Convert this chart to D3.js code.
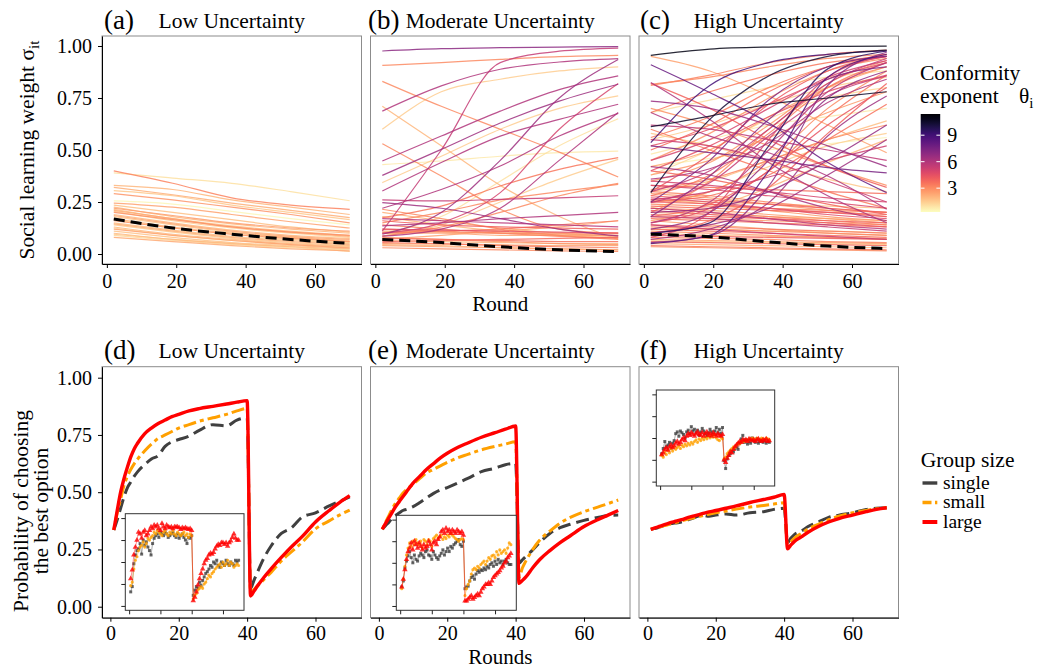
<!DOCTYPE html>
<html>
<head>
<meta charset="utf-8">
<script src="https://cdn.jsdelivr.net/npm/d3@7"></script>
<style>
  body { margin: 0; background: #fff; }
  svg, svg text { font-family: "Liberation Serif", "DejaVu Serif", "Noto Serif", "Times New Roman", Times, serif; fill: #000; }
</style>
</head>
<body>
<div class="chart"></div>
<script>
// ---------- data ----------
const panelTitles = ["Low Uncertainty", "Moderate Uncertainty", "High Uncertainty"];
const topTags = ["(a)", "(b)", "(c)"];
const bottomTags = ["(d)", "(e)", "(f)"];
const xTicks = [0, 20, 40, 60];
const yTicks = [0, 0.25, 0.5, 0.75, 1];
const thetaTicks = [3, 6, 9];
const groups = ["single", "small", "large"];

const sRounds = [2, 19, 36, 53, 70];

// [theta, sigma at sRounds...]
const linesLow = [
  [3.2, .40, .34, .27, .235, .215], [1.0, .39, .365, .34, .30, .256],
  [2.0, .33, .31, .26, .225, .19], [2.2, .32, .285, .245, .21, .175],
  [1.6, .305, .28, .235, .20, .165], [2.8, .29, .26, .225, .19, .15],
  [0.5, .255, .24, .205, .17, .14], [2.5, .245, .225, .19, .155, .125],
  [1.8, .235, .20, .165, .13, .105], [2.0, .225, .18, .145, .12, .10],
  [2.6, .22, .185, .15, .125, .11], [1.7, .215, .17, .135, .11, .09],
  [2.3, .21, .17, .13, .105, .085], [1.5, .205, .16, .125, .10, .08],
  [2.9, .20, .165, .13, .105, .09], [1.9, .19, .15, .115, .09, .075],
  [2.4, .185, .145, .11, .085, .07], [1.6, .18, .14, .105, .08, .065],
  [2.1, .17, .13, .10, .08, .06], [1.4, .165, .125, .095, .07, .055],
  [2.7, .16, .125, .095, .075, .06], [1.8, .15, .115, .085, .065, .05],
  [2.2, .145, .11, .08, .06, .045], [1.5, .14, .105, .075, .055, .04],
  [2.0, .13, .095, .07, .05, .038], [1.3, .125, .09, .065, .045, .035],
  [2.5, .12, .09, .065, .045, .03], [1.7, .11, .08, .055, .04, .028],
  [1.9, .10, .07, .05, .035, .025], [1.2, .09, .065, .045, .03, .02],
  [2.3, .08, .06, .04, .025, .015], [1.6, .095, .07, .05, .035, .012]
];
const meanLow = [.168, .125, .095, .07, .051];

const linesMod = [
  [7.0, .976, .987, .992, .995, .997], [3.0, .907, .92, .936, .949, .955],
  [6.0, .687, .808, .888, .923, .939], [5.5, .11, .50, .92, .975, .99],
  [3.0, .83, .71, .60, .49, .37], [1.5, .60, .78, .84, .88, .90],
  [2.0, .71, .52, .33, .18, .07], [3.0, .53, .375, .215, .12, .10],
  [6.0, .447, .567, .687, .79, .856], [6.5, .378, .503, .63, .735, .816],
  [0.8, .43, .447, .47, .487, .495], [1.5, .343, .47, .60, .70, .76],
  [6.0, .303, .44, .567, .647, .72], [5.5, .26, .255, .263, .27, .28],
  [6.0, .22, .31, .423, .567, .676], [1.0, .10, .18, .35, .52, .65],
  [5.0, .10, .15, .295, .60, .82], [3.5, .175, .23, .327, .407, .463],
  [3.0, .15, .20, .26, .30, .335], [6.0, .135, .15, .17, .185, .20],
  [2.5, .07, .09, .11, .13, .16], [6.5, .247, .22, .17, .12, .087],
  [3.0, .215, .17, .12, .09, .07], [2.0, .18, .14, .11, .09, .08],
  [1.5, .086, .14, .25, .36, .455], [6.0, .086, .12, .22, .45, .68],
  [6.5, .095, .20, .45, .75, .935], [3.0, .086, .13, .20, .28, .34],
  [2.5, .10, .10, .09, .09, .09], [3.0, .12, .11, .10, .10, .10],
  [2.0, .065, .06, .055, .05, .05], [3.5, .055, .05, .04, .035, .03],
  [2.5, .04, .035, .03, .025, .02], [3.0, .03, .025, .02, .015, .012],
  [2.0, .045, .04, .03, .025, .02], [2.8, .08, .07, .06, .05, .045],
  [3.2, .14, .12, .10, .085, .075], [4.0, .16, .14, .13, .125, .12],
  [2.2, .20, .16, .125, .10, .085], [3.8, .06, .065, .07, .075, .08],
  [5.8, .17, .16, .15, .14, .13], [3.4, .10, .11, .12, .14, .16],
  [2.6, .11, .105, .10, .095, .09], [3.6, .075, .07, .065, .06, .06],
  [2.4, .05, .048, .045, .04, .04], [4.5, .12, .115, .11, .105, .10]
];
const meanMod = [.07, .055, .035, .02, .012];

const linesHigh = [
  [11.0, .955, .985, .995, .998, .999], [10.5, .612, .663, .72, .75, .78],
  [10.3, .295, .647, .856, .95, .98], [9.5, .10, .15, .52, .89, .976],
  [9.0, .535, .81, .92, .96, .976], [8.5, .05, .09, .40, .85, .96],
  [8.0, .91, .776, .63, .44, .295], [7.5, .52, .487, .455, .415, .39],
  [7.0, .055, .087, .327, .81, .97], [7.0, .18, .375, .647, .84, .90],
  [6.6, .735, .70, .62, .52, .42], [7.4, .25, .45, .74, .90, .95],
  [6.8, .12, .20, .45, .75, .88], [6.0, .68, .567, .487, .375, .215],
  [6.0, .36, .41, .535, .728, .84], [5.5, .247, .343, .567, .76, .856],
  [6.5, .07, .12, .247, .567, .76], [6.0, .824, .647, .44, .28, .15],
  [5.0, .45, .55, .70, .85, .93], [5.5, .30, .40, .60, .82, .94],
  [6.2, .42, .38, .30, .22, .16], [5.8, .15, .25, .50, .78, .92],
  [6.8, .20, .22, .30, .45, .62], [5.2, .55, .52, .45, .35, .25],
  [6.5, .10, .14, .22, .38, .55], [5.0, .35, .33, .30, .27, .25],
  [5.2, .26, .30, .37, .45, .52], [5.6, .62, .60, .55, .50, .45],
  [4.8, .08, .20, .55, .85, .95], [5.4, .18, .17, .15, .13, .11],
  [5.3, .14, .12, .10, .085, .07], [5.7, .22, .20, .17, .14, .12],
  [4.5, .40, .52, .66, .78, .86], [3.0, .816, .85, .90, .94, .96],
  [2.5, .95, .88, .76, .62, .487], [3.5, .68, .78, .86, .92, .95],
  [4.0, .82, .70, .55, .42, .32], [3.2, .81, .86, .92, .96, .98],
  [3.8, .50, .62, .78, .90, .96], [2.8, .45, .58, .75, .88, .94],
  [4.2, .30, .48, .72, .88, .95], [3.0, .20, .35, .60, .80, .90],
  [3.6, .25, .28, .38, .55, .72], [2.6, .38, .45, .56, .68, .78],
  [4.4, .15, .22, .40, .62, .80], [3.4, .60, .50, .40, .30, .22],
  [2.9, .70, .62, .52, .42, .33], [3.7, .33, .32, .31, .30, .29],
  [4.0, .28, .26, .24, .22, .20], [3.1, .24, .23, .22, .21, .20],
  [3.3, .22, .20, .18, .16, .14], [2.7, .26, .24, .21, .18, .16],
  [3.9, .19, .18, .17, .16, .15], [3.5, .17, .16, .15, .14, .13],
  [4.3, .21, .19, .17, .15, .13], [2.4, .16, .14, .12, .10, .09],
  [3.0, .13, .12, .11, .10, .09], [3.6, .12, .11, .10, .09, .08],
  [2.8, .11, .10, .09, .08, .07], [4.1, .09, .085, .08, .075, .07],
  [3.2, .08, .075, .07, .06, .055], [2.5, .07, .065, .06, .055, .05],
  [3.8, .06, .055, .05, .045, .04], [2.2, .05, .045, .04, .035, .03],
  [3.4, .04, .035, .03, .025, .02], [2.9, .035, .03, .025, .02, .015],
  [4.6, .27, .25, .22, .19, .17], [4.8, .33, .31, .28, .25, .22],
  [3.1, .31, .36, .45, .55, .62], [3.9, .40, .36, .30, .24, .19],
  [2.6, .29, .27, .24, .21, .18], [4.5, .52, .60, .72, .84, .92],
  [3.3, .56, .66, .80, .90, .95], [1.0, .68, .74, .80, .85, .88],
  [1.5, .55, .62, .72, .80, .85], [1.2, .38, .50, .65, .75, .80],
  [0.8, .48, .55, .62, .66, .70], [1.8, .30, .35, .45, .55, .64],
  [1.4, .22, .30, .42, .52, .58], [2.0, .16, .22, .32, .44, .55],
  [1.7, .26, .25, .24, .23, .22], [1.1, .12, .12, .11, .11, .10],
  [2.0, .20, .19, .18, .17, .16], [1.6, .58, .52, .44, .36, .30],
  [0.6, .42, .46, .50, .53, .56], [1.9, .10, .09, .085, .08, .075],
  [1.3, .065, .06, .055, .05, .045],
  [3.0, .25, .30, .45, .70, .88], [3.6, .18, .24, .40, .66, .86],
  [2.7, .35, .44, .62, .82, .93], [4.0, .10, .16, .32, .58, .82],
  [3.3, .28, .38, .58, .80, .92], [2.4, .42, .50, .66, .80, .90],
  [3.8, .23, .22, .21, .20, .19], [3.2, .30, .28, .25, .22, .20],
  [2.8, .18, .17, .16, .15, .14], [4.2, .25, .24, .22, .20, .18],
  [3.5, .14, .13, .12, .11, .10], [2.6, .22, .21, .19, .17, .15]
];
const meanHigh = [.095, .083, .058, .038, .026];

// model predictions: probability of choosing the best option
const mRounds = [1, 2, 3, 4, 5, 6, 7, 8, 10, 12, 14, 16, 18, 20, 23, 26, 30, 34, 37, 40,
                 41, 42, 43, 45, 47, 50, 53, 56, 60, 64, 67, 70];
const dSingle = [.335, .38, .43, .48, .52, .545, .57, .59, .62, .645, .66, .70, .72, .73, .745, .77, .795, .79, .815, .825,
                 .08, .115, .15, .215, .265, .32, .345, .39, .41, .44, .46, .48];
const dSmall  = [.335, .41, .47, .53, .57, .60, .625, .645, .68, .71, .735, .75, .765, .78, .795, .81, .825, .84, .855, .866,
                 .06, .075, .09, .12, .15, .20, .24, .28, .34, .375, .40, .422];
const dLarge  = [.335, .42, .50, .56, .61, .655, .69, .715, .755, .78, .80, .815, .83, .84, .855, .865, .875, .885, .893, .90,
                 .047, .068, .09, .13, .165, .215, .262, .305, .37, .42, .455, .485];
const eSingle = [.338, .355, .37, .39, .40, .41, .42, .425, .437, .455, .475, .495, .51, .52, .54, .56, .59, .605, .62, .626,
                 .19, .205, .22, .248, .28, .32, .345, .36, .377, .39, .398, .40];
const eSmall  = [.338, .37, .40, .43, .455, .475, .495, .51, .535, .56, .585, .60, .615, .63, .65, .665, .685, .70, .71, .72,
                 .13, .17, .20, .25, .29, .33, .365, .39, .415, .435, .45, .466];
const eLarge  = [.338, .365, .39, .415, .44, .46, .48, .50, .54, .57, .60, .625, .65, .67, .695, .715, .74, .76, .775, .789,
                 .102, .115, .13, .17, .205, .245, .28, .31, .35, .38, .40, .42];
const fSingle = [.338, .341, .345, .35, .355, .36, .363, .365, .37, .38, .39, .40, .395, .40, .405, .40, .41, .415, .425, .43,
                 .28, .30, .315, .33, .35, .37, .39, .40, .41, .425, .43, .432];
const fSmall  = [.338, .342, .346, .35, .354, .358, .362, .366, .375, .383, .39, .397, .404, .41, .418, .426, .435, .442, .448, .454,
                 .27, .285, .30, .32, .34, .36, .38, .395, .41, .42, .428, .432];
const fLarge  = [.338, .343, .348, .353, .358, .363, .368, .372, .38, .39, .398, .406, .414, .42, .43, .44, .455, .468, .478, .49,
                 .253, .27, .285, .305, .325, .35, .37, .385, .40, .415, .425, .432];

// observed proportions (percent), rounds 1..70, shown in the insets
const obsRounds = d3.range(1, 71);
const dSingleObs = [16,22,48,58,63,65,71,59,75,69, 73,67,63,58,71,77,80,82,78,84, 82,80,84,82,78,80,82,84,80,78,
                    82,77,80,82,78,75,71,78,77,80, 12,18,22,20,27,23,29,33,37,39, 42,46,44,50,48,52,46,44,50,48,
                    46,52,48,46,50,48,46,52,50,52];
const dSmallObs  = [23,27,42,52,56,63,67,69,73,67, 71,77,75,78,80,84,82,86,84,82, 80,84,86,82,80,84,82,86,82,80,
                    84,82,80,82,84,80,82,78,82,80, 8,12,14,18,20,22,20,25,27,31, 35,33,37,39,42,44,46,48,44,50,
                    46,48,52,46,50,48,44,46,48,46];
const dLargeObs  = [31,41,58,67,75,84,82,77,84,86, 80,82,86,90,88,92,90,92,88,86, 94,90,88,92,90,89,90,88,90,90,
                    90,89,87,89,88,89,88,87,88,86, 6,10,16,24,31,37,42,48,52,54, 58,60,59,61,65,68,70,69,72,72,
                    70,72,68,72,74,78,82,77,75,75];
const eSingleObs = [22,29,44,52,58,63,56,50,59,54, 52,58,61,59,56,63,65,59,58,54, 63,59,56,54,58,61,65,59,63,67,
                    63,69,67,71,73,75,77,71,69,75, 20,22,23,29,33,35,31,37,41,39, 42,41,44,42,46,44,48,50,46,52,
                    48,54,50,52,48,52,54,50,48,48];
const eSmallObs  = [20,31,46,59,67,73,69,75,71,77, 73,71,75,67,77,75,71,77,75,69, 78,80,82,78,80,82,77,80,78,82,
                    80,84,82,80,78,77,75,77,78,77, 12,20,25,29,37,42,44,42,46,44, 48,50,52,48,52,56,54,58,59,56,
                    63,59,65,61,63,65,61,67,73,71];
const eLargeObs  = [22,31,42,54,63,67,73,65,75,71, 67,73,69,65,71,67,69,75,71,65, 73,75,71,77,80,86,88,84,90,86,
                    88,84,88,86,84,88,86,84,86,82, 6,6,8,10,12,8,10,12,14,12, 16,20,22,25,25,27,25,29,33,35,
                    37,39,41,44,46,50,52,56,58,61];
const fSingleObs = [32,38,46,40,42,45,38,44,47,55, 57,52,58,56,54,50,57,59,55,63, 58,60,56,59,53,57,61,58,55,52,
                    56,60,57,54,58,62,56,60,55,62, 24,15,26,30,32,36,34,38,40,37, 44,49,53,45,48,43,46,44,50,47,
                    45,49,44,46,48,45,47,44,46,45];
const fSmallObs  = [30,28,34,31,36,33,38,35,40,37, 39,41,38,42,40,43,41,44,42,45, 43,46,48,45,49,47,50,48,51,49,
                    52,50,53,51,54,50,48,47,51,49, 26,28,32,34,36,38,40,39,42,44, 43,45,47,46,48,47,49,48,50,49,
                    48,50,49,48,50,49,48,50,49,48];
const fLargeObs  = [31,33,37,39,36,40,42,39,41,44, 46,43,45,48,50,47,52,55,53,56, 54,52,55,57,54,53,56,52,55,57,
                    53,55,52,56,54,52,55,53,52,54, 25,22,27,30,34,33,37,40,42,44, 46,45,48,47,48,46,49,48,47,48,
                    46,48,49,47,46,48,47,49,46,47];

// ---------- layout ----------
const W = 1043, H = 668;
const FONT = "'Liberation Serif', 'DejaVu Serif', 'Noto Serif', 'Times New Roman', serif";
const lefts = [102, 370.5, 639], pw = 259.5;
const tagX = [104, 368, 640];
const R1 = { top: 36, bottom: 264 }, R2 = { top: 366.7, bottom: 617.7 };
const insetBox = [
  { x: 125.3, y: 513.7, w: 118.7, h: 96.6 },
  { x: 396.3, y: 515.3, w: 120, h: 95 },
  { x: 656.3, y: 390, w: 118.4, h: 96 }
];

const svg = d3.select(".chart").append("svg")
  .attr("width", W).attr("height", H)
  .attr("font-family", FONT);

const theta = d3.scaleSequential(t => d3.interpolateMagma(1 - t)).domain([0.3, 11.4]);

const style = {
  single: { color: "#404040", dash: "13,6", width: 3 },
  small:  { color: "#ffa000", dash: "4,4,13,4", width: 3 },
  large:  { color: "#ff0000", dash: null, width: 3.4 }
};

function styleAxis(g, size) {
  g.attr("font-family", FONT).attr("font-size", size);
  g.selectAll("text").attr("fill", "#000");
  g.selectAll("line").attr("stroke", "#000");
  g.select(".domain").attr("stroke", "#000");
}

function frame(k, row) {
  svg.append("rect")
    .attr("x", lefts[k]).attr("y", row.top)
    .attr("width", pw).attr("height", row.bottom - row.top)
    .attr("fill", "#fff").attr("stroke", "#8c8c8c").attr("stroke-width", 1);
}

function headings(k, baseline, tags) {
  svg.append("text").attr("x", lefts[k] + pw / 2).attr("y", baseline)
    .attr("text-anchor", "middle").attr("font-size", 21.5).text(panelTitles[k]);
  svg.append("text").attr("x", tagX[k]).attr("y", baseline + 1.5)
    .attr("font-size", 27).text(tags[k]);
}

// ---------- top row ----------
const topLines = [linesLow, linesMod, linesHigh];
const topMeans = [meanLow, meanMod, meanHigh];

topLines.forEach((lines, k) => {
  frame(k, R1);
  const x = d3.scaleLinear().domain([-1.4, 73.4]).range([lefts[k], lefts[k] + pw]);
  const y = d3.scaleLinear().domain([-0.048, 1.048]).range([R1.bottom, R1.top]);
  const line = d3.line().x((d, i) => x(sRounds[i])).y(d => y(d)).curve(d3.curveMonotoneX);

  const sorted = lines.slice().sort((a, b) => a[0] - b[0]);
  svg.append("g").selectAll("path").data(sorted).join("path")
    .attr("d", d => line(d.slice(1)))
    .attr("fill", "none")
    .attr("stroke", d => theta(d[0]))
    .attr("stroke-width", 1.2)
    .attr("stroke-opacity", 0.85);

  svg.append("path").attr("d", line(topMeans[k]))
    .attr("fill", "none").attr("stroke", "#000")
    .attr("stroke-width", 3).attr("stroke-dasharray", "11,6");

  const ax = svg.append("g").attr("transform", `translate(0,${R1.bottom})`)
    .call(d3.axisBottom(x).tickValues(xTicks).tickSize(4).tickSizeOuter(0).tickPadding(6));
  styleAxis(ax, 20);

  if (k === 0) {
    const ay = svg.append("g").attr("transform", `translate(${lefts[0]},0)`)
      .call(d3.axisLeft(y).tickValues(yTicks).tickFormat(d3.format(".2f")).tickSize(4).tickSizeOuter(0).tickPadding(6));
    styleAxis(ay, 20);
  }
  headings(k, 27.5, topTags);
});

// ---------- bottom row ----------
const model = [
  { single: dSingle, small: dSmall, large: dLarge },
  { single: eSingle, small: eSmall, large: eLarge },
  { single: fSingle, small: fSmall, large: fLarge }
];
const observed = [
  { single: dSingleObs, small: dSmallObs, large: dLargeObs },
  { single: eSingleObs, small: eSmallObs, large: eLargeObs },
  { single: fSingleObs, small: fSmallObs, large: fLargeObs }
];

model.forEach((series, k) => {
  frame(k, R2);
  const x = d3.scaleLinear().domain([-2.45, 73.45]).range([lefts[k], lefts[k] + pw]);
  const y = d3.scaleLinear().domain([-0.048, 1.048]).range([R2.bottom, R2.top]);
  const line = d3.line().x((d, i) => x(mRounds[i])).y(d => y(d)).curve(d3.curveMonotoneX);

  groups.forEach(gname => {
    const s = style[gname];
    svg.append("path").attr("d", line(series[gname]))
      .attr("fill", "none").attr("stroke", s.color)
      .attr("stroke-width", s.width)
      .attr("stroke-dasharray", s.dash)
      .attr("stroke-linejoin", "round");
  });

  // inset with observed data
  const b = insetBox[k];
  const ix = d3.scaleLinear().domain([-2.45, 73.45]).range([b.x, b.x + b.w]);
  const iy = d3.scaleLinear().domain([-0.05, 1.05]).range([b.y + b.h, b.y]);
  svg.append("rect").attr("x", b.x).attr("y", b.y).attr("width", b.w).attr("height", b.h)
    .attr("fill", "#fff").attr("stroke", "#333").attr("stroke-width", 1);
  const iax = svg.append("g").attr("transform", `translate(0,${b.y + b.h})`)
    .call(d3.axisBottom(ix).tickValues(xTicks).tickSize(4).tickSizeOuter(0).tickFormat(""));
  iax.select(".domain").remove();
  iax.selectAll("line").attr("stroke", "#222");
  const iay = svg.append("g").attr("transform", `translate(${b.x},0)`)
    .call(d3.axisLeft(iy).tickValues(yTicks).tickSize(4).tickSizeOuter(0).tickFormat(""));
  iay.select(".domain").remove();
  iay.selectAll("line").attr("stroke", "#222");

  const obs = observed[k];
  const iline = d3.line().x((d, i) => ix(obsRounds[i])).y(d => iy(d / 100));
  groups.forEach(gname => {
    const s = style[gname];
    svg.append("path").attr("d", iline(obs[gname]))
      .attr("fill", "none").attr("stroke", s.color)
      .attr("stroke-width", 0.8).attr("stroke-opacity", 0.55);
    const pts = svg.append("g").selectAll("path").data(obs[gname]).join("path")
      .attr("transform", (d, i) => `translate(${ix(obsRounds[i])},${iy(d / 100)})`)
      .attr("fill", s.color).attr("fill-opacity", 0.8);
    if (gname === "single") pts.attr("d", d3.symbol(d3.symbolSquare, 9)());
    else if (gname === "small") pts.attr("d", d3.symbol(d3.symbolCircle, 8)());
    else pts.attr("d", d3.symbol(d3.symbolTriangle, 13)());
  });

  const ax = svg.append("g").attr("transform", `translate(0,${R2.bottom})`)
    .call(d3.axisBottom(x).tickValues(xTicks).tickSize(4).tickSizeOuter(0).tickPadding(4.5));
  styleAxis(ax, 20);
  if (k === 0) {
    const ay = svg.append("g").attr("transform", `translate(${lefts[0]},0)`)
      .call(d3.axisLeft(y).tickValues(yTicks).tickFormat(d3.format(".2f")).tickSize(4).tickSizeOuter(0).tickPadding(6));
    styleAxis(ay, 20);
  }
  headings(k, 357.5, bottomTags);
});

// ---------- axis titles ----------
const yt = svg.append("text").attr("transform", "translate(34,150) rotate(-90)")
  .attr("text-anchor", "middle").attr("font-size", 21.5);
yt.append("tspan").text("Social learning weight σ");
yt.append("tspan").attr("dy", 5).attr("font-size", 15).text("it");

const yb = svg.append("text").attr("transform", "translate(0,511) rotate(-90)")
  .attr("text-anchor", "middle").attr("font-size", 21.5);
yb.append("tspan").attr("x", 0).attr("y", 28).text("Probability of choosing");
yb.append("tspan").attr("x", 0).attr("y", 48).text("the best option");

svg.append("text").attr("x", lefts[1] + pw / 2).attr("y", 311)
  .attr("text-anchor", "middle").attr("font-size", 21).text("Round");
svg.append("text").attr("x", lefts[1] + pw / 2).attr("y", 664)
  .attr("text-anchor", "middle").attr("font-size", 21).text("Rounds");

// ---------- colour bar legend ----------
svg.append("text").attr("x", 920).attr("y", 80).attr("font-size", 21.5).text("Conformity");
svg.append("text").attr("x", 920).attr("y", 103).attr("font-size", 21.5).text("exponent");
const th = svg.append("text").attr("x", 1019).attr("y", 103).attr("font-size", 21.5);
th.append("tspan").text("θ");
th.append("tspan").attr("dy", 5).attr("font-size", 15).text("i");

const cb = d3.scaleLinear().domain([0.3, 11.4]).range([212, 114]);
const grad = svg.append("defs").append("linearGradient").attr("id", "cbar")
  .attr("x1", 0).attr("x2", 0).attr("y1", 0).attr("y2", 1);
grad.selectAll("stop").data(d3.range(0, 1.0001, 0.05)).join("stop")
  .attr("offset", d => d).attr("stop-color", d => d3.interpolateMagma(d));
svg.append("rect").attr("x", 920.7).attr("y", cb(11.4)).attr("width", 19.5)
  .attr("height", cb(0.3) - cb(11.4)).attr("fill", "url(#cbar)");
svg.append("g").selectAll("line").data(thetaTicks).join("line")
  .attr("x1", 920.7).attr("x2", 924.5).attr("y1", d => cb(d)).attr("y2", d => cb(d))
  .attr("stroke", "#fff").attr("stroke-width", 1);
svg.append("g").selectAll("line").data(thetaTicks).join("line")
  .attr("x1", 936.4).attr("x2", 940.2).attr("y1", d => cb(d)).attr("y2", d => cb(d))
  .attr("stroke", "#fff").attr("stroke-width", 1);
const cax = svg.append("g").attr("transform", "translate(940.2,0)")
  .call(d3.axisRight(cb).tickValues(thetaTicks).tickSize(0).tickPadding(7));
cax.select(".domain").remove();
styleAxis(cax, 20);

// ---------- group size legend ----------
svg.append("text").attr("x", 920.7).attr("y", 467).attr("font-size", 21.5).text("Group size");
const keyDash = { single: null, small: "9,3.5,3,10", large: null };
groups.forEach((gname, i) => {
  const yk = 483 + i * 19.5;
  const s = style[gname];
  svg.append("line").attr("x1", 922.5).attr("x2", 937.3).attr("y1", yk).attr("y2", yk)
    .attr("stroke", s.color).attr("stroke-width", gname === "large" ? 4 : 3.4)
    .attr("stroke-dasharray", keyDash[gname]);
  svg.append("text").attr("x", 943).attr("y", yk + 5.5).attr("font-size", 19.5).text(gname);
});
</script>
</body>
</html>
